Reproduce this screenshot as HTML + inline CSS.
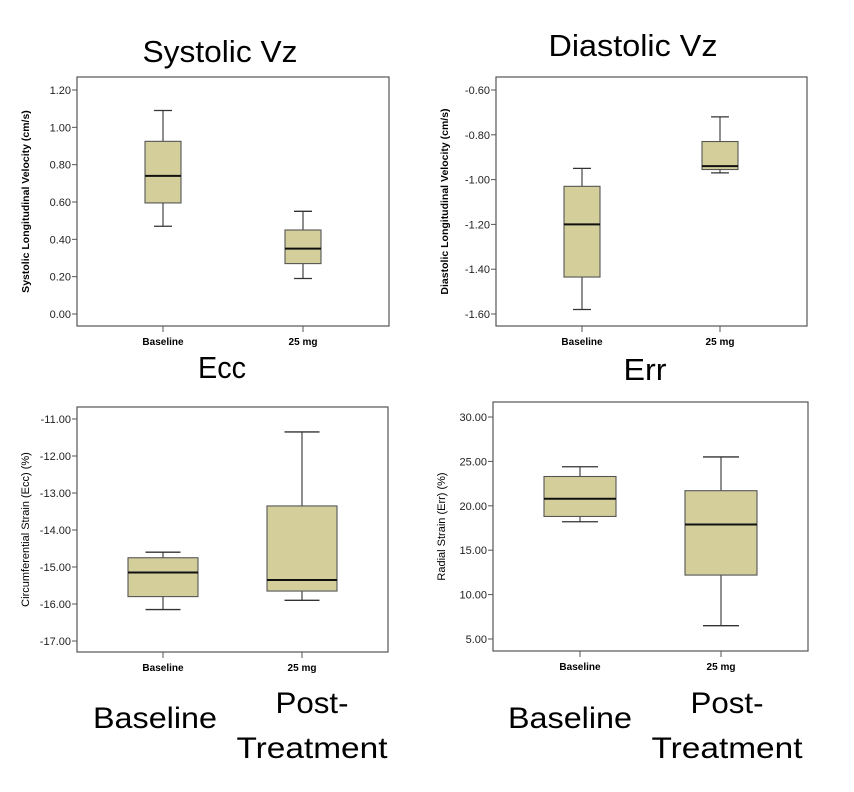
<!DOCTYPE html>
<html><head><meta charset="utf-8"><style>
body{margin:0;background:#fff;width:854px;height:792px;overflow:hidden;font-family:"Liberation Sans",Arial,sans-serif}
svg{position:absolute;left:0;top:0}
</style></head><body>
<svg id="s" width="854" height="792">
<text x="220" y="62" font-size="31" text-anchor="middle" textLength="155" lengthAdjust="spacingAndGlyphs">Systolic Vz</text>
<text x="633" y="56" font-size="31" text-anchor="middle" textLength="169" lengthAdjust="spacingAndGlyphs">Diastolic Vz</text>
<text x="222" y="378" font-size="31" text-anchor="middle" textLength="48" lengthAdjust="spacingAndGlyphs">Ecc</text>
<text x="645" y="380" font-size="31" text-anchor="middle" textLength="43" lengthAdjust="spacingAndGlyphs">Err</text>
<text x="155" y="728" font-size="30" text-anchor="middle" textLength="124" lengthAdjust="spacingAndGlyphs">Baseline</text>
<text x="312" y="713" font-size="30" text-anchor="middle" textLength="73" lengthAdjust="spacingAndGlyphs">Post-</text>
<text x="312" y="758" font-size="30" text-anchor="middle" textLength="151" lengthAdjust="spacingAndGlyphs">Treatment</text>
<text x="570" y="728" font-size="30" text-anchor="middle" textLength="124" lengthAdjust="spacingAndGlyphs">Baseline</text>
<text x="727" y="713" font-size="30" text-anchor="middle" textLength="73" lengthAdjust="spacingAndGlyphs">Post-</text>
<text x="727" y="758" font-size="30" text-anchor="middle" textLength="151" lengthAdjust="spacingAndGlyphs">Treatment</text>
</svg>
<script>
const categories = ["Baseline", "25 mg"];
// [min, q1, median, q3, max]
const systolicBaseline = [0.47, 0.595, 0.74, 0.925, 1.09];
const systolic25 = [0.19, 0.27, 0.35, 0.45, 0.55];
const systolicTicks = [0, 0.2, 0.4, 0.6, 0.8, 1.0, 1.2];
const diastolicBaseline = [-1.58, -1.435, -1.20, -1.03, -0.95];
const diastolic25 = [-0.97, -0.955, -0.94, -0.83, -0.72];
const diastolicTicks = [-1.6, -1.4, -1.2, -1.0, -0.8, -0.6];
const eccBaseline = [-16.15, -15.8, -15.15, -14.75, -14.6];
const ecc25 = [-15.9, -15.65, -15.35, -13.35, -11.35];
const eccTicks = [-17, -16, -15, -14, -13, -12, -11];
const errBaseline = [18.2, 18.8, 20.8, 23.3, 24.4];
const err25 = [6.5, 12.2, 17.9, 21.7, 25.5];
const errTicks = [5, 10, 15, 20, 25, 30];

const svg = document.getElementById('s');
const NS = 'http://www.w3.org/2000/svg';
function mk(tag, attrs){const e=document.createElementNS(NS,tag);for(const k in attrs)e.setAttribute(k,attrs[k]);svg.appendChild(e);return e;}

function panel(p){
  const y = v => p.y0 + (v - p.v0) * (p.y1 - p.y0) / (p.v1 - p.v0);
  const fr = mk('rect',{x:p.fx0,y:p.fy0,width:p.fx1-p.fx0,height:p.fy1-p.fy0,fill:'none',stroke:'#555','stroke-width':1.2});
  
  
  p.ticks.forEach(t=>{
    const ty=y(t);
    const tl=mk('line',{x1:p.fx0-5,x2:p.fx0,y1:ty,y2:ty,stroke:'#555'});
    
    
    const tx=mk('text',{x:p.fx0-6,y:ty+4,'font-size':11,'text-anchor':'end',fill:'#222'});
    tx.textContent=t.toFixed(2);
    
    
  });
  const ay=(p.fy0+p.fy1)/2, ax=p.fx0-48;
  const at=mk('text',{x:ax,y:ay,'font-size':p.bold?10.5:11,'font-weight':p.bold?'bold':'normal','text-anchor':'middle',transform:`rotate(-90 ${ax} ${ay})`});
  at.textContent=p.title;
  
  
  categories.forEach((c,i)=>{
    const cx=p.cx[i], d=p.data[i], hw=p.hw;
    const xt=mk('line',{x1:cx,x2:cx,y1:p.fy1,y2:p.fy1+6,stroke:'#555'});
    
    
    const xl=mk('text',{x:cx,y:p.fy1+19,'font-size':10,'font-weight':'bold','text-anchor':'middle'});
    xl.textContent=c;
    
    
    const w1=mk('line',{x1:cx,x2:cx,y1:y(d[0]),y2:y(d[1]),stroke:'#444','stroke-width':1.2});
    
    
    const w2=mk('line',{x1:cx,x2:cx,y1:y(d[3]),y2:y(d[4]),stroke:'#444','stroke-width':1.2});
    
    
    const c1=mk('line',{x1:cx-hw/2,x2:cx+hw/2,y1:y(d[0]),y2:y(d[0]),stroke:'#333','stroke-width':1.3});
    
    
    const c2=mk('line',{x1:cx-hw/2,x2:cx+hw/2,y1:y(d[4]),y2:y(d[4]),stroke:'#333','stroke-width':1.3});
    
    
    const b=mk('rect',{x:cx-hw,y:y(d[3]),width:2*hw,height:y(d[1])-y(d[3]),fill:'#d4cf9a',stroke:'#555','stroke-width':1.1});
    
    
    const m=mk('line',{x1:cx-hw,x2:cx+hw,y1:y(d[2]),y2:y(d[2]),stroke:'#111','stroke-width':2});
    
    
  });
}
panel({name:'systolic',fx0:77,fx1:389,fy0:77,fy1:326,v0:1.2,y0:90,v1:0,y1:314,cx:[163,303],hw:18,data:[systolicBaseline,systolic25],ticks:systolicTicks,title:'Systolic Longitudinal Velocity (cm/s)',bold:true});
panel({name:'diastolic',fx0:496,fx1:807,fy0:77,fy1:326,v0:-0.6,y0:90,v1:-1.6,y1:314,cx:[582,720],hw:18,data:[diastolicBaseline,diastolic25],ticks:diastolicTicks,title:'Diastolic Longitudinal Velocity (cm/s)',bold:true});
panel({name:'ecc',fx0:77,fx1:388,fy0:407,fy1:652,v0:-11,y0:419,v1:-17,y1:641,cx:[163,302],hw:35,data:[eccBaseline,ecc25],ticks:eccTicks,title:'Circumferential Strain (Ecc) (%)',bold:false});
panel({name:'err',fx0:493,fx1:808,fy0:402,fy1:651,v0:30,y0:417,v1:5,y1:639,cx:[580,721],hw:36,data:[errBaseline,err25],ticks:errTicks,title:'Radial Strain (Err) (%)',bold:false});
</script>
</body></html>
